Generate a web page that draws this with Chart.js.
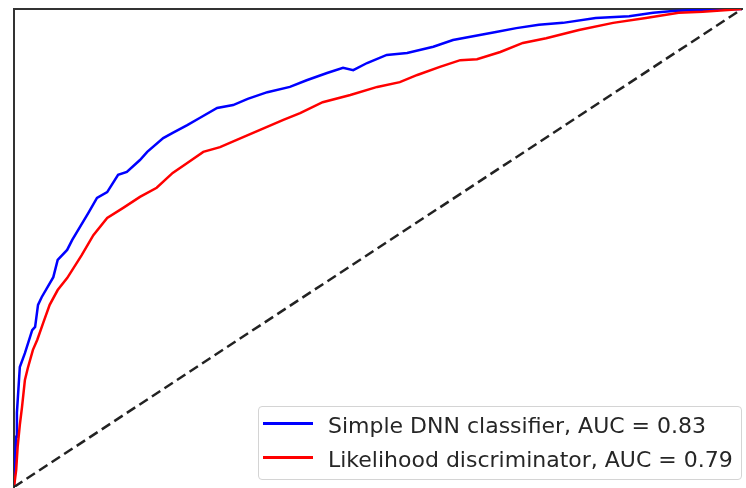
<!DOCTYPE html>
<html>
<head>
<meta charset="utf-8">
<script src="https://cdn.jsdelivr.net/npm/chart.js@4.4.3/dist/chart.umd.min.js"></script>
<style>
  html, body { margin: 0; padding: 0; background: #fff; }
  #wrap { position: relative; width: 746px; height: 488px; }
  #legend {
    position: absolute; left: 258px; top: 406px; width: 482px; height: 72px;
    border: 1px solid #d4d4d4; border-radius: 4px; background: rgba(255,255,255,0.8);
    font-family: "DejaVu Sans", sans-serif; font-size: 22px; color: #262626;
  }
  #legend .row { position: relative; height: 34px; }
  #legend .swatch { position: absolute; left: 4px; top: 15px; width: 50px; height: 3px; }
  #legend .label { position: absolute; left: 69px; top: 0; line-height: 38px; white-space: nowrap; }
</style>
</head>
<body>
<div id="wrap">
  <canvas id="chart" width="746" height="488"></canvas>
  <div id="legend"></div>
</div>
<script>
// ROC curve points (false positive rate / true positive rate)
const dnnFpr = [0, 0.0014, 0.003, 0.004, 0.008, 0.015, 0.025, 0.029, 0.033, 0.038, 0.054, 0.060, 0.073, 0.080,
  0.102, 0.114, 0.128, 0.143, 0.155, 0.173, 0.183, 0.205, 0.218, 0.238, 0.255, 0.279, 0.301, 0.321,
  0.348, 0.379, 0.402, 0.430, 0.452, 0.466, 0.485, 0.512, 0.540, 0.576, 0.603, 0.662, 0.690, 0.721,
  0.754, 0.799, 0.845, 0.878, 0.905, 0.937, 1];
const dnnTpr = [0, 0.056, 0.105, 0.155, 0.251, 0.280, 0.328, 0.335, 0.381, 0.397, 0.439, 0.475, 0.496, 0.517,
  0.573, 0.605, 0.617, 0.653, 0.659, 0.684, 0.701, 0.730, 0.741, 0.757, 0.772, 0.793, 0.799, 0.812,
  0.826, 0.837, 0.851, 0.866, 0.877, 0.872, 0.887, 0.904, 0.908, 0.921, 0.935, 0.952, 0.960, 0.967,
  0.971, 0.981, 0.985, 0.992, 0.996, 0.998, 1];

const llhFpr = [0, 0.003, 0.005, 0.008, 0.011, 0.015, 0.019, 0.026, 0.032, 0.040, 0.049, 0.060, 0.073, 0.093,
  0.109, 0.128, 0.150, 0.173, 0.196, 0.218, 0.238, 0.260, 0.283, 0.306, 0.338, 0.370, 0.393, 0.424,
  0.462, 0.499, 0.530, 0.554, 0.585, 0.613, 0.636, 0.668, 0.699, 0.731, 0.776, 0.823, 0.868, 0.913,
  0.946, 1];
const llhTpr = [0, 0.036, 0.084, 0.130, 0.167, 0.224, 0.249, 0.287, 0.308, 0.343, 0.381, 0.412, 0.437, 0.485,
  0.527, 0.563, 0.584, 0.607, 0.626, 0.657, 0.678, 0.701, 0.711, 0.726, 0.747, 0.768, 0.782, 0.805,
  0.820, 0.837, 0.847, 0.862, 0.879, 0.893, 0.895, 0.910, 0.929, 0.939, 0.956, 0.971, 0.981, 0.992,
  0.994, 1];

const chanceFpr = [0, 1];
const chanceTpr = [0, 1];

const labels = ['Simple DNN classifier, AUC = 0.83', 'Likelihood discriminator, AUC = 0.79'];

const toPoints = (xs, ys) => xs.map((x, i) => ({ x, y: ys[i] }));

const datasets = [
  {
    label: labels[0], data: toPoints(dnnFpr, dnnTpr),
    borderColor: '#0000ff', borderWidth: 2.5, order: 2, inLegend: true
  },
  {
    label: labels[1], data: toPoints(llhFpr, llhTpr),
    borderColor: '#ff0000', borderWidth: 2.5, order: 1, inLegend: true
  },
  {
    label: 'chance', data: toPoints(chanceFpr, chanceTpr),
    borderColor: '#222222', borderWidth: 2.5, borderDash: [10, 5], order: 0
  }
];

// Axes without ticks; only the top and left spines are visible in the crop.
const axis = pos => ({
  type: 'linear', position: pos, min: 0, max: 1,
  ticks: { display: false },
  grid: { display: false, drawTicks: false },
  border: { display: true, color: '#333333', width: 2 },
  afterFit: scale => {
    if (pos === 'top') scale.height = 0; else scale.width = 0;
  }
});

const chart = new Chart(document.getElementById('chart'), {
  type: 'scatter',
  data: { datasets },
  options: {
    responsive: false,
    animation: false,
    showLine: true,
    elements: { point: { radius: 0 }, line: { tension: 0, fill: false } },
    layout: { padding: { left: 14, top: 9, right: 4, bottom: 1 } },
    scales: { x: axis('top'), y: axis('left') },
    plugins: { legend: { display: false }, tooltip: { enabled: false } }
  }
});

// HTML legend built from the datasets.
const legend = document.getElementById('legend');
chart.data.datasets.filter(d => d.inLegend).forEach(d => {
  const row = document.createElement('div');
  row.className = 'row';
  row.innerHTML = `<span class="swatch" style="background:${d.borderColor}"></span><span class="label">${d.label}</span>`;
  legend.append(row);
});
</script>
</body>
</html>
